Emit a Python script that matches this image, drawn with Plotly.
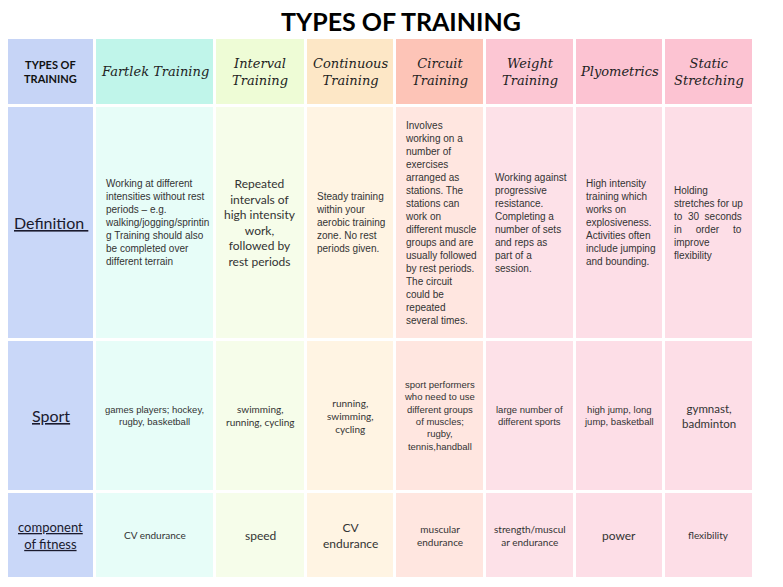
import plotly.graph_objects as go

col_edges = [(8, 93), (96, 213), (216, 304), (307, 393), (396, 483), (486, 573), (576, 662), (665, 752)]
row_edges = [(39, 104), (107, 338), (341, 490), (493, 577)]
header_colors = ["#c6d4f6", "#c0f5ea", "#eefcd6", "#fde7c6", "#fdc4b7", "#fcc6d3", "#fcc3d2", "#fcc3d2"]
body_colors = ["#c9d7f8", "#e7fdf8", "#f6fdea", "#fff4e3", "#ffe6e0", "#fde1e8", "#fddee7", "#fddee7"]

headers = ["TYPES OF<br>TRAINING", "Fartlek Training", "Interval<br>Training", "Continuous<br>Training",
           "Circuit<br>Training", "Weight<br>Training", "Plyometrics", "Static<br>Stretching"]
row_labels = ["Definition ", "Sport", "component<br>of fitness"]
definitions = [
    "Working at different<br>intensities without rest<br>periods – e.g.<br>walking/jogging/sprintin<br>g Training should also<br>be completed over<br>different terrain",
    "Repeated<br>intervals of<br>high intensity<br>work,<br>followed by<br>rest periods",
    "Steady training<br>within your<br>aerobic training<br>zone. No rest<br>periods given.",
    "Involves<br>working on a<br>number of<br>exercises<br>arranged as<br>stations. The<br>stations can<br>work on<br>different muscle<br>groups and are<br>usually followed<br>by rest periods.<br>The circuit<br>could be<br>repeated<br>several times.",
    "Working against<br>progressive<br>resistance.<br>Completing a<br>number of sets<br>and reps as<br>part of a<br>session.",
    "High intensity<br>training which<br>works on<br>explosiveness.<br>Activities often<br>include jumping<br>and bounding.",
    "Holding<br>stretches for up<br>to  30  seconds<br>in     order     to<br>improve<br>flexibility",
]
sports = ["games players; hockey,<br>rugby, basketball", "swimming,<br>running, cycling", "running,<br>swimming,<br>cycling",
          "sport performers<br>who need to use<br>different groups<br>of muscles;<br>rugby,<br>tennis,handball",
          "large number of<br>different sports", "high jump, long<br>jump, basketball", "gymnast,<br>badminton"]
components = ["CV endurance", "speed", "CV<br>endurance", "muscular<br>endurance", "strength/muscul<br>ar endurance",
              "power", "flexibility"]

def_align = ["left", "center", "left", "left", "left", "left", "left"]
def_font = ["Liberation Sans", "Lato", "Liberation Sans", "Liberation Sans", "Liberation Sans", "Liberation Sans", "Liberation Sans"]
def_size = [10, 12, 10, 10, 10, 10, 10]
sport_font = ["Liberation Sans", "Lato", "Lato", "Liberation Sans", "Liberation Sans", "Liberation Sans", "Lato"]
sport_size = [9.5, 10, 10, 9.5, 9.5, 9.5, 11.5]
comp_font = ["Lato", "Lato", "Lato", "Lato", "Lato", "Lato", "Lato"]
comp_size = [10, 12, 12, 10, 10, 12, 10]

OFF = 8  # page body margin

fig = go.Figure()
fig.add_trace(go.Scatter(x=[OFF, 783 + OFF], y=[OFF, 587 + OFF], mode="markers", marker=dict(opacity=0), hoverinfo="skip"))

for c, (x0, x1) in enumerate(col_edges):
    for r, (y0, y1) in enumerate(row_edges):
        color = header_colors[c] if r == 0 else body_colors[c]
        fig.add_shape(type="rect", x0=x0, x1=x1, y0=y0, y1=y1, fillcolor=color, line_width=0, layer="below")

def cx(c):
    return (col_edges[c][0] + col_edges[c][1]) / 2

def cy(r):
    return (row_edges[r][0] + row_edges[r][1]) / 2

for c, h in enumerate(headers):
    if c == 0:
        fig.add_annotation(x=cx(c), y=cy(0), text="<b>" + h + "</b>", showarrow=False,
                           font=dict(family="Lato", size=11, color="#111"))
    else:
        fig.add_annotation(x=cx(c), y=cy(0), text="<i>" + h + "</i>", showarrow=False,
                           font=dict(family="DejaVu Serif", size=13, color="#222"))

label_sizes = [16, 16, 13]
for r, lab in enumerate(row_labels):
    fig.add_annotation(x=cx(0), y=cy(r + 1), text="<u>" + lab + "</u>", showarrow=False,
                       font=dict(family="Lato", size=label_sizes[r], color="#1a1a2e"))

for i in range(7):
    c = i + 1
    x0, x1 = col_edges[c]
    if def_align[i] == "left":
        fig.add_annotation(x=x0 + 7, y=cy(1), xanchor="left", align="left", text=definitions[i], showarrow=False,
                           font=dict(family=def_font[i], size=def_size[i], color="#333"))
    else:
        fig.add_annotation(x=cx(c), y=cy(1), align="center", text=definitions[i], showarrow=False,
                           font=dict(family=def_font[i], size=def_size[i], color="#333"))
    fig.add_annotation(x=cx(c), y=cy(2), align="center", text=sports[i], showarrow=False,
                       font=dict(family=sport_font[i], size=sport_size[i], color="#333"))
    fig.add_annotation(x=cx(c), y=cy(3), align="center", text=components[i], showarrow=False,
                       font=dict(family=comp_font[i], size=comp_size[i], color="#333"))

fig.add_annotation(x=401, y=21, text="<b>TYPES OF TRAINING</b>", showarrow=False,
                   font=dict(family="Lato", size=25, color="#000"))

fig.update_layout(width=783, height=587, margin=dict(l=0, r=0, t=0, b=0),
                  plot_bgcolor="white", paper_bgcolor="white", showlegend=False,
                  xaxis=dict(range=[OFF, 783 + OFF], visible=False, fixedrange=True),
                  yaxis=dict(range=[587 + OFF, OFF], visible=False, fixedrange=True))
fig.write_html("out.html")
